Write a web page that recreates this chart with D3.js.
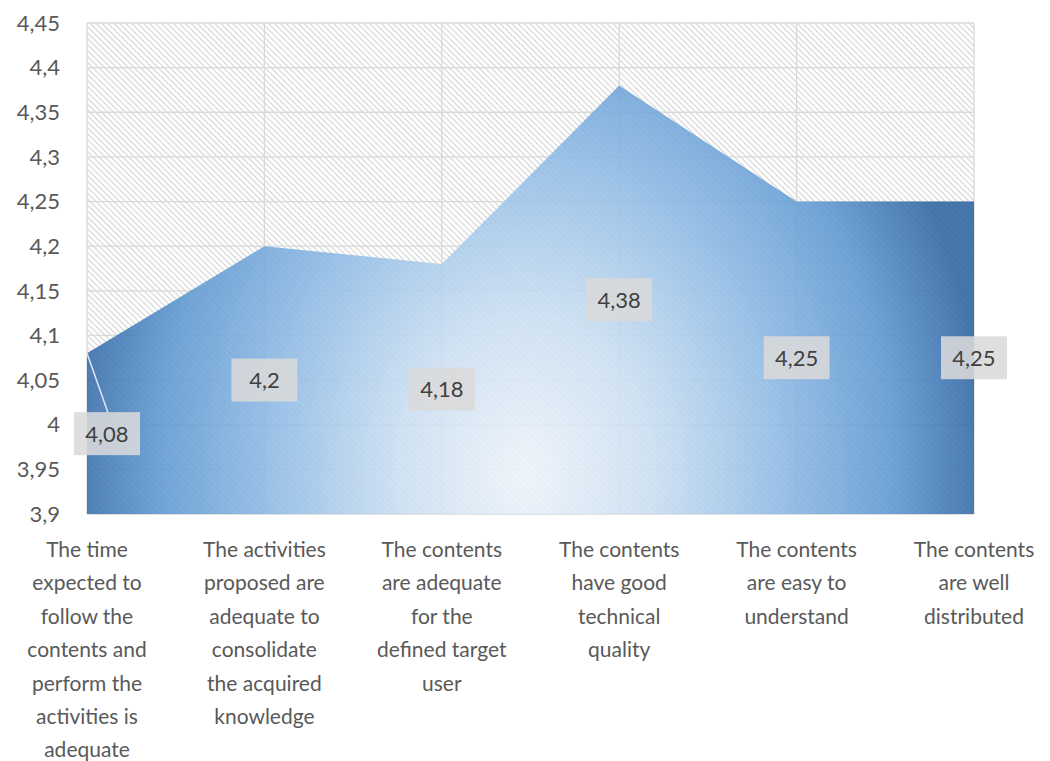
<!DOCTYPE html>
<html><head><meta charset="utf-8">
<script src="https://cdn.jsdelivr.net/npm/d3@7"></script>
<style>body{margin:0;background:#fff}svg{display:block}</style>
</head><body>
<svg id="c" width="1050" height="761"></svg>
<script>
const categories = [
  "The time expected to follow the contents and perform the activities is adequate",
  "The activities proposed are adequate to consolidate the acquired knowledge",
  "The contents are adequate for the defined target user",
  "The contents have good technical quality",
  "The contents are easy to understand",
  "The contents are well distributed"
];
const categoryLines = [
  ["The time","expected to","follow the","contents and","perform the","activities is","adequate"],
  ["The activities","proposed are","adequate to","consolidate","the acquired","knowledge"],
  ["The contents","are adequate","for the","defined target","user"],
  ["The contents","have good","technical","quality"],
  ["The contents","are easy to","understand"],
  ["The contents","are well","distributed"]
];
const values = [4.08, 4.2, 4.18, 4.38, 4.25, 4.25];
const yTicks = [3.9,3.95,4,4.05,4.1,4.15,4.2,4.25,4.3,4.35,4.4,4.45];

const svg = d3.select("#c");
const L = 87, R = 974, T = 23, B = 514;
const x = d3.scalePoint().domain(categories).range([L, R]);
const y = d3.scaleLinear().domain([3.9, 4.45]).range([B, T]);
const fmt = v => String(+v.toFixed(2)).replace(".", ",");
const font = "Lato, 'Open Sans', sans-serif";

const defs = svg.append("defs");
const pat = defs.append("pattern").attr("id","hatch").attr("patternUnits","userSpaceOnUse")
  .attr("width",4.2).attr("height",4.2).attr("patternTransform","rotate(-45)");
pat.append("rect").attr("width",4.2).attr("height",4.2).attr("fill","#fff");
pat.append("line").attr("x1",1).attr("x2",1).attr("y1",0).attr("y2",4.2)
  .attr("stroke","#d6d6d6").attr("stroke-width",1.2);

const rg = defs.append("radialGradient").attr("id","fillg").attr("gradientUnits","userSpaceOnUse")
  .attr("cx",525).attr("cy",475).attr("r",460)
  .attr("gradientTransform","translate(525,475) scale(1,1.25) translate(-525,-475)");
[[0,"#eef4fb"],[0.28,"#c9def2"],[0.55,"#8dbae5"],[0.8,"#5a95d0"],[1,"#2a61a0"]]
  .forEach(([o,c]) => rg.append("stop").attr("offset",o).attr("stop-color",c));

// plot background hatch
svg.append("rect").attr("x",L).attr("y",T).attr("width",R-L).attr("height",B-T)
  .attr("fill","url(#hatch)");

// gridlines
svg.append("g").selectAll("line").data(yTicks).join("line")
  .attr("x1",L).attr("x2",R).attr("y1",d=>y(d)).attr("y2",d=>y(d))
  .attr("stroke","#d9d9d9").attr("stroke-width",1.3);
svg.append("g").selectAll("line").data(categories).join("line")
  .attr("x1",d=>x(d)).attr("x2",d=>x(d)).attr("y1",T).attr("y2",B)
  .attr("stroke","#d9d9d9").attr("stroke-width",1.3);

// area
const area = d3.area().x((d,i)=>x(categories[i])).y0(y(3.9)).y1(d=>y(d));
svg.append("path").datum(values).attr("d",area)
  .attr("fill","url(#fillg)").attr("fill-opacity",0.86);

// y axis labels
svg.append("g").selectAll("text").data(yTicks).join("text")
  .attr("x",60).attr("y",d=>y(d)).attr("dy","0.35em").attr("text-anchor","end")
  .attr("font-family",font).attr("font-size",22).attr("fill","#595959")
  .text(fmt);

// x axis labels
const xl = svg.append("g").selectAll("text").data(categories).join("text")
  .attr("x",d=>x(d)).attr("y",557).attr("text-anchor","middle")
  .attr("font-family",font).attr("font-size",21).attr("fill","#595959");
xl.each(function(d,i){
  d3.select(this).selectAll("tspan").data(categoryLines[i]).join("tspan")
    .attr("x",x(d)).attr("dy",(t,j)=>j===0?0:33.4).text(t=>t);
});

// leader line for first label
svg.append("line")
  .attr("x1",x(categories[0])).attr("y1",y(values[0]))
  .attr("x2",x(categories[0])+21).attr("y2",(y(values[0])+y(3.9))/2-21)
  .attr("stroke","#dfe7f0").attr("stroke-width",1.5);

// data labels at middle of area height
const labelOffset = [20,0,0,0,0,0];
const lbl = svg.append("g").selectAll("g").data(values).join("g")
  .attr("transform",(d,i)=>`translate(${x(categories[i])+labelOffset[i]},${(y(d)+y(3.9))/2})`);
lbl.append("rect").attr("x",-33).attr("y",-21.5).attr("width",66).attr("height",43)
  .attr("fill","#d9d9d9").attr("fill-opacity",0.88);
lbl.append("text").attr("text-anchor","middle").attr("dy","0.36em")
  .attr("font-family",font).attr("font-size",22).attr("fill","#404040")
  .text(fmt);
</script>
</body></html>
